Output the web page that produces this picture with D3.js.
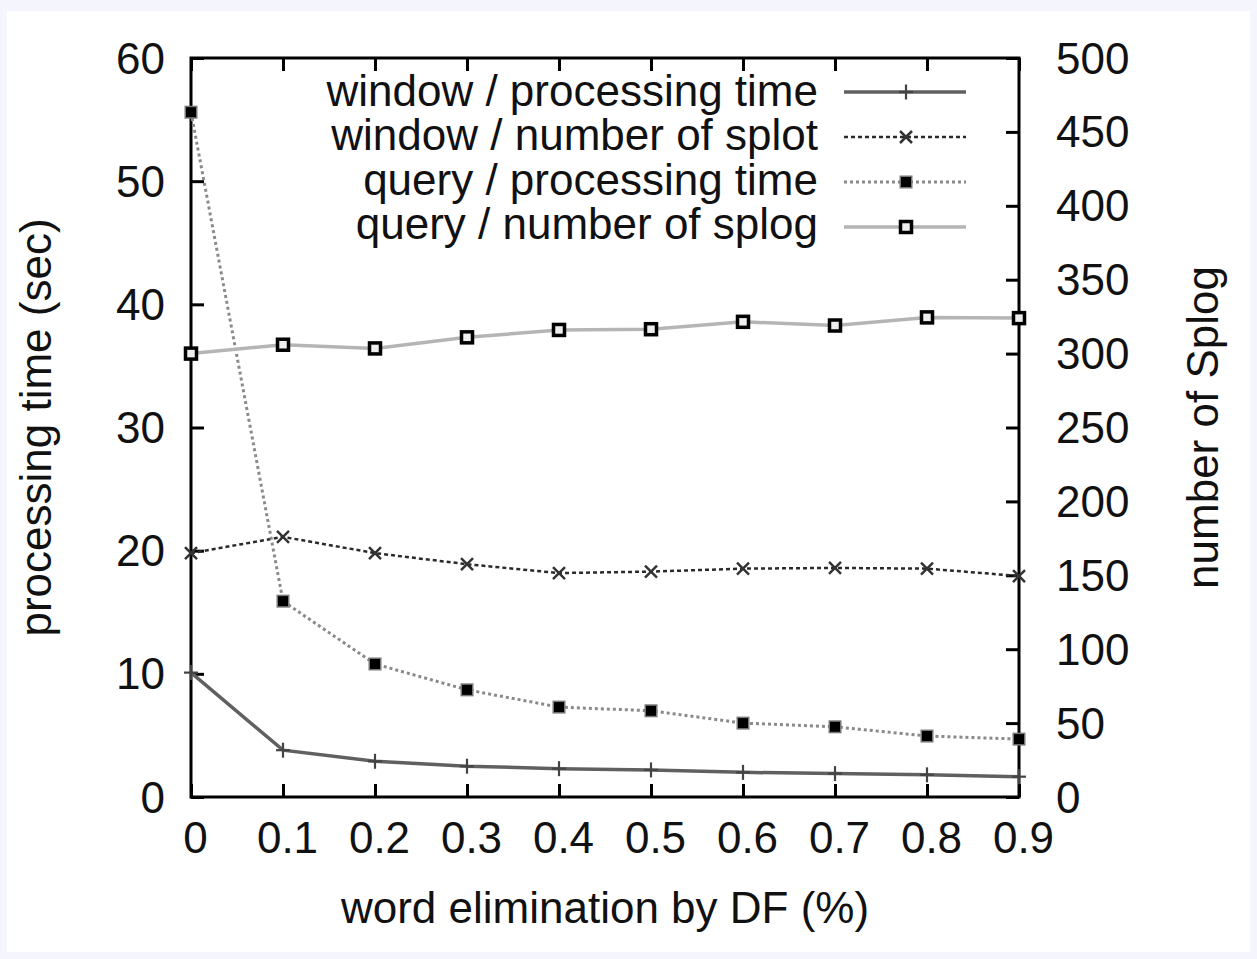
<!DOCTYPE html>
<html>
<head>
<meta charset="utf-8">
<script src="https://cdn.jsdelivr.net/npm/d3@7"></script>
<style>
  html, body { margin: 0; padding: 0; background: #f5f6fd; }
  svg { display: block; }
  text { font-family: "Liberation Sans", Arial, Helvetica, sans-serif; fill: #111; }
</style>
</head>
<body>
<script>
// ---- data ----
const xValues = [0, 0.1, 0.2, 0.3, 0.4, 0.5, 0.6, 0.7, 0.8, 0.9];
const xTickLabels = ["0", "0.1", "0.2", "0.3", "0.4", "0.5", "0.6", "0.7", "0.8", "0.9"];
const leftTicks = [0, 10, 20, 30, 40, 50, 60];
const rightTicks = [0, 50, 100, 150, 200, 250, 300, 350, 400, 450, 500];
const seriesNames = ["window / processing time", "window / number of splot", "query / processing time", "query / number of splog"];
const windowTime = [10.1, 3.8, 2.9, 2.5, 2.3, 2.2, 2.0, 1.9, 1.8, 1.65];
const windowSplog = [165, 176, 165, 157.5, 151.5, 152.5, 154.5, 155, 154.5, 149.5];
const queryTime = [55.6, 15.9, 10.8, 8.7, 7.3, 7.0, 6.0, 5.7, 4.95, 4.7];
const querySplog = [300, 306, 303.5, 311, 316, 316.5, 321.5, 319, 324.5, 324];
const xTitle = "word elimination by DF (%)";
const yLeftTitle = "processing time (sec)";
const yRightTitle = "number of Splog";

const W = 1257, H = 959;
const L = 191, R = 1019, T = 58, B = 797;
const FS = 44;

const svg = d3.select("body").append("svg").attr("width", W).attr("height", H);
svg.append("rect").attr("x", 7).attr("y", 11).attr("width", W - 14).attr("height", H - 18).attr("fill", "#fff");

const x = d3.scaleLinear().domain([0, 0.9]).range([L, R]);
const yL = d3.scaleLinear().domain([0, 60]).range([B, T]);
const yR = d3.scaleLinear().domain([0, 500]).range([B, T]);

const tickLen = 13;
function styleAxis(g) {
  g.select(".domain").remove();
  g.selectAll(".tick line").attr("stroke", "#000").attr("stroke-width", 3);
  g.selectAll(".tick text").attr("font-size", FS).attr("fill", "#111")
    .attr("font-family", '"Liberation Sans", Arial, sans-serif');
}

// bottom axis
const gB = svg.append("g").attr("transform", `translate(0,${B})`)
  .call(d3.axisBottom(x).tickValues(xValues).tickSize(-tickLen).tickFormat((d, i) => xTickLabels[i]));
styleAxis(gB);
gB.selectAll(".tick text").attr("y", 56).attr("dy", 0).attr("x", 4);
// top axis (ticks only)
const gT = svg.append("g").attr("transform", `translate(0,${T})`)
  .call(d3.axisTop(x).tickValues(xValues).tickSize(-tickLen).tickFormat(""));
styleAxis(gT);
// left axis
const gL = svg.append("g").attr("transform", `translate(${L},0)`)
  .call(d3.axisLeft(yL).tickValues(leftTicks).tickSize(-tickLen).tickFormat(d3.format("d")));
styleAxis(gL);
gL.selectAll(".tick text").attr("x", -26).attr("dy", 0).attr("y", 15).attr("text-anchor", "end");
// right axis
const gR = svg.append("g").attr("transform", `translate(${R},0)`)
  .call(d3.axisRight(yR).tickValues(rightTicks).tickSize(-tickLen).tickFormat(d3.format("d")));
styleAxis(gR);
gR.selectAll(".tick text").attr("x", 37).attr("dy", 0).attr("y", 15).attr("text-anchor", "start");

// frame
svg.append("rect").attr("x", L).attr("y", T).attr("width", R - L).attr("height", B - T)
  .attr("fill", "none").attr("stroke", "#000").attr("stroke-width", 3);

// titles
svg.append("text").attr("x", (L + R) / 2).attr("y", 923).attr("text-anchor", "middle")
  .attr("font-size", FS).text(xTitle);
svg.append("text").attr("transform", `translate(51,${(T + B) / 2}) rotate(-90)`)
  .attr("text-anchor", "middle").attr("font-size", FS).text(yLeftTitle);
svg.append("text").attr("transform", `translate(1218,${(T + B) / 2}) rotate(-90)`)
  .attr("text-anchor", "middle").attr("font-size", FS).text(yRightTitle);

// series definitions
const series = [
  { name: seriesNames[0], values: windowTime, y: yL, stroke: "#606060", width: 3.5, dash: null, marker: "plus" },
  { name: seriesNames[1], values: windowSplog, y: yR, stroke: "#2a2a2a", width: 2.5, dash: "4,3", marker: "cross" },
  { name: seriesNames[2], values: queryTime, y: yL, stroke: "#8a8a8a", width: 3, dash: "3,3", marker: "fsquare" },
  { name: seriesNames[3], values: querySplog, y: yR, stroke: "#b5b5b5", width: 3.5, dash: null, marker: "osquare" }
];

function drawMarker(g, type, cx, cy) {
  if (type === "plus") {
    g.append("line").attr("x1", cx - 7).attr("x2", cx + 7).attr("y1", cy).attr("y2", cy).attr("stroke", "#444").attr("stroke-width", 2.2);
    g.append("line").attr("x1", cx).attr("x2", cx).attr("y1", cy - 7.5).attr("y2", cy + 7.5).attr("stroke", "#444").attr("stroke-width", 2.2);
  } else if (type === "cross") {
    const s = 6;
    g.append("line").attr("x1", cx - s).attr("x2", cx + s).attr("y1", cy - s).attr("y2", cy + s).attr("stroke", "#333").attr("stroke-width", 2.5);
    g.append("line").attr("x1", cx - s).attr("x2", cx + s).attr("y1", cy + s).attr("y2", cy - s).attr("stroke", "#333").attr("stroke-width", 2.5);
  } else if (type === "fsquare") {
    g.append("rect").attr("x", cx - 6.5).attr("y", cy - 6.5).attr("width", 13).attr("height", 13).attr("fill", "#777");
    g.append("rect").attr("x", cx - 5).attr("y", cy - 5).attr("width", 10).attr("height", 10).attr("fill", "#000");
  } else if (type === "osquare") {
    g.append("rect").attr("x", cx - 5.5).attr("y", cy - 5.5).attr("width", 11).attr("height", 11)
      .attr("fill", "#eee").attr("stroke", "#000").attr("stroke-width", 3.5);
  }
}

series.forEach(s => {
  const line = d3.line().x((d, i) => x(xValues[i])).y(d => s.y(d));
  svg.append("path").datum(s.values).attr("d", line).attr("fill", "none")
    .attr("stroke", s.stroke).attr("stroke-width", s.width)
    .attr("stroke-dasharray", s.dash);
});
series.forEach(s => {
  const g = svg.append("g");
  s.values.forEach((v, i) => drawMarker(g, s.marker, x(xValues[i]), s.y(v)));
});

// legend
const legBase = [106, 150, 195, 239];
const legSample = [92, 137, 182, 227];
series.forEach((s, i) => {
  svg.append("text").attr("x", 818).attr("y", legBase[i]).attr("text-anchor", "end")
    .attr("font-size", FS).text(s.name);
  svg.append("line").attr("x1", 844).attr("x2", 966).attr("y1", legSample[i]).attr("y2", legSample[i])
    .attr("stroke", s.stroke).attr("stroke-width", s.width).attr("stroke-dasharray", s.dash);
  drawMarker(svg.append("g"), s.marker, 906, legSample[i]);
});
</script>
</body>
</html>
